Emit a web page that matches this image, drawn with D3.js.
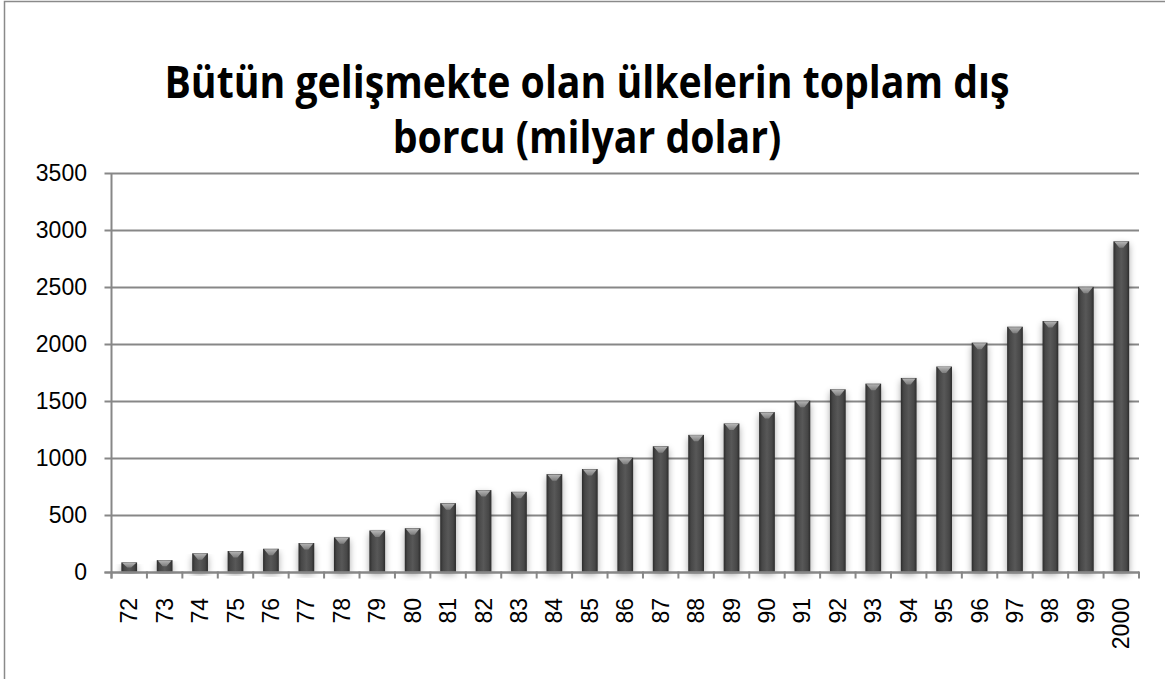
<!DOCTYPE html>
<html>
<head>
<meta charset="utf-8">
<script src="https://cdn.jsdelivr.net/npm/d3@7"></script>
<style>
  html, body { margin: 0; padding: 0; background: #fff; }
  svg { display: block; }
</style>
</head>
<body>
<svg id="chart" width="1165" height="679"></svg>
<script>
// chart data
const titleLines = ['Bütün gelişmekte olan ülkelerin toplam dış', 'borcu (milyar dolar)'];
const categories = ['72', '73', '74', '75', '76', '77', '78', '79', '80', '81', '82', '83', '84', '85',
  '86', '87', '88', '89', '90', '91', '92', '93', '94', '95', '96', '97', '98', '99', '2000'];
const values = [80, 100, 160, 180, 200, 250, 300, 360, 380, 600, 715, 700, 855, 900,
  1000, 1100, 1200, 1300, 1400, 1500, 1600, 1650, 1700, 1800, 2010, 2150, 2200, 2500, 2900];
const yTicks = [0, 500, 1000, 1500, 2000, 2500, 3000, 3500];

const svg = d3.select('#chart');
const margin = { top: 173, right: 26, bottom: 107, left: 111.5 };
const width = +svg.attr('width');
const height = +svg.attr('height');
const gridColor = '#878787';
const font = '"Liberation Sans", Arial, sans-serif';

// outer chart frame (right and bottom edges fall outside the picture)
svg.append('rect')
    .attr('x', 4.5).attr('y', 1.5)
    .attr('width', width + 50).attr('height', height + 50)
    .attr('fill', 'none')
    .attr('stroke', '#8a8a8a')
    .attr('stroke-width', 1.5);

const defs = svg.append('defs');
const grad = defs.append('linearGradient').attr('id', 'barFill')
    .attr('x1', '0%').attr('x2', '100%').attr('y1', '0%').attr('y2', '0%');
grad.append('stop').attr('offset', '0%').attr('stop-color', '#2c2c2c');
grad.append('stop').attr('offset', '18%').attr('stop-color', '#474747');
grad.append('stop').attr('offset', '50%').attr('stop-color', '#585858');
grad.append('stop').attr('offset', '82%').attr('stop-color', '#474747');
grad.append('stop').attr('offset', '100%').attr('stop-color', '#2c2c2c');

const bevel = defs.append('linearGradient').attr('id', 'bevelFill')
    .attr('x1', '0%').attr('x2', '0%').attr('y1', '0%').attr('y2', '100%');
bevel.append('stop').attr('offset', '0%').attr('stop-color', '#b4b4b4');
bevel.append('stop').attr('offset', '100%').attr('stop-color', '#7c7c7c');

const shadow = defs.append('filter').attr('id', 'shadow')
    .attr('x', '-60%').attr('y', '-10%').attr('width', '220%').attr('height', '130%');
shadow.append('feGaussianBlur').attr('in', 'SourceAlpha').attr('stdDeviation', 3.5);
shadow.append('feOffset').attr('dx', 0).attr('dy', 3).attr('result', 'blur');
shadow.append('feComponentTransfer').append('feFuncA').attr('type', 'linear').attr('slope', 0.35);

const x = d3.scaleBand()
    .domain(categories)
    .range([margin.left, width - margin.right])
    .paddingInner(1.25 / 2.25)
    .paddingOuter(1.25 / 4.5);

const y = d3.scaleLinear()
    .domain([0, 3500])
    .range([height - margin.bottom - 0.5, margin.top]);

// title: a wide font squeezed to the width the narrower original font takes
const titleSize = 44;
const title = svg.append('text')
    .attr('text-anchor', 'middle')
    .attr('font-family', '"Open Sans", "Noto Sans", sans-serif')
    .attr('font-weight', 'bold')
    .attr('font-size', titleSize)
    .attr('fill', '#000');
const tspans = title.selectAll('tspan')
    .data(titleLines)
    .join('tspan')
    .attr('x', 587)
    .attr('y', (d, i) => 98 + i * 55)
    .text(d => d);
const lens = tspans.nodes().map(n => n.getComputedTextLength());
const squeeze = 845 / lens[0];
tspans
    .attr('textLength', (d, i) => lens[i] * squeeze)
    .attr('lengthAdjust', 'spacingAndGlyphs');

// gridlines
svg.append('g')
  .selectAll('line')
  .data(yTicks)
  .join('line')
    .attr('x1', margin.left - 7)
    .attr('x2', width - margin.right)
    .attr('y1', d => Math.round(y(d)) + 0.5)
    .attr('y2', d => Math.round(y(d)) + 0.5)
    .attr('stroke', gridColor)
    .attr('stroke-width', 2);

// y labels
svg.append('g')
  .selectAll('text')
  .data(yTicks)
  .join('text')
    .attr('x', 87)
    .attr('y', d => y(d))
    .attr('dy', '0.35em')
    .attr('text-anchor', 'end')
    .attr('font-family', font)
    .attr('font-size', 23)
    .attr('fill', '#000')
    .text(d => d);

// bars
const bars = svg.append('g')
  .selectAll('g')
  .data(values)
  .join('g');

bars.append('rect')
    .attr('x', (d, i) => x(categories[i]))
    .attr('y', d => y(d))
    .attr('width', x.bandwidth())
    .attr('height', d => y(0) - y(d))
    .attr('fill', '#000')
    .attr('filter', 'url(#shadow)');

bars.append('rect')
    .attr('x', (d, i) => x(categories[i]))
    .attr('y', d => y(d))
    .attr('width', x.bandwidth())
    .attr('height', d => y(0) - y(d))
    .attr('fill', 'url(#barFill)');

// light bevel at the top of each bar
bars.append('path')
    .attr('d', (d, i) => {
      const x0 = x(categories[i]) + 1, x1 = x0 + x.bandwidth() - 2;
      const t = y(d) + 0.5, h = Math.min(6, (y(0) - y(d)) / 2);
      const xc = (x0 + x1) / 2;
      return 'M' + x0 + ',' + t + 'L' + x1 + ',' + t +
        'L' + (xc + 2) + ',' + (t + h) + 'L' + (xc - 2) + ',' + (t + h) + 'Z';
    })
    .attr('fill', 'url(#bevelFill)');

// axes lines
svg.append('line')
    .attr('x1', margin.left).attr('x2', margin.left)
    .attr('y1', margin.top).attr('y2', y(0) + 7)
    .attr('stroke', gridColor).attr('stroke-width', 2);
svg.append('line')
    .attr('x1', margin.left - 7).attr('x2', width - margin.right)
    .attr('y1', Math.round(y(0)) + 0.5).attr('y2', Math.round(y(0)) + 0.5)
    .attr('stroke', gridColor).attr('stroke-width', 2);

// x ticks at band edges
const edges = categories.map(c => x(c) - x.step() * x.paddingInner() / 2)
    .concat([width - margin.right]);
svg.append('g')
  .selectAll('line')
  .data(edges)
  .join('line')
    .attr('x1', d => d).attr('x2', d => d)
    .attr('y1', y(0)).attr('y2', y(0) + 7)
    .attr('stroke', gridColor).attr('stroke-width', 2);

// x labels, rotated
svg.append('g')
  .selectAll('text')
  .data(categories)
  .join('text')
    .attr('transform', d => 'translate(' + (x(d) + x.bandwidth() / 2) + ',598) rotate(-90)')
    .attr('dy', '0.35em')
    .attr('text-anchor', 'end')
    .attr('font-family', font)
    .attr('font-size', 23)
    .attr('fill', '#000')
    .text(d => d);
</script>
</body>
</html>
